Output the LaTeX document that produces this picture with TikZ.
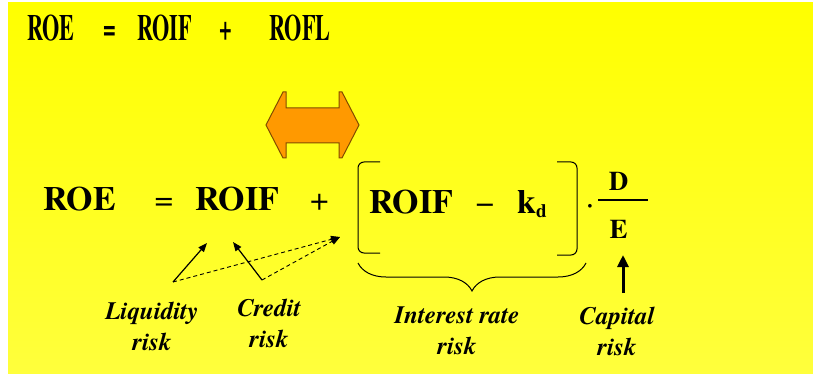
\documentclass[tikz,border=0pt]{standalone}
\usepackage{fontspec}
\setmainfont{texgyretermes}[Extension=.otf, UprightFont=*-regular, BoldFont=*-bold, ItalicFont=*-italic, BoldItalicFont=*-bolditalic]
\usetikzlibrary{arrows.meta,decorations.pathreplacing}
\definecolor{bgtop}{RGB}{255,255,0}
\definecolor{bgbot}{RGB}{255,255,60}
\definecolor{arrowfill}{RGB}{255,153,0}
\definecolor{arrowline}{RGB}{130,75,0}
\tikzset{
  topterm/.style={anchor=base, inner sep=0pt, font=\fontsize{37}{37}\selectfont\bfseries},
  term/.style={anchor=base, inner sep=0pt, font=\fontsize{34}{34}\selectfont\bfseries},
  oper/.style={anchor=base, inner sep=0pt, font=\fontsize{33}{33}\selectfont},
  fracterm/.style={anchor=base, inner sep=0pt, font=\fontsize{27}{27}\selectfont\bfseries},
  risklabel/.style={inner sep=0pt, align=center, font=\fontsize{25}{31}\selectfont\bfseries\itshape},
  solidarr/.style={line width=1.2pt, -{Triangle[length=9pt,width=7pt]}},
  dasharr/.style={line width=0.9pt, dash pattern=on 4pt off 3pt, -{Triangle[length=9pt,width=7pt]}},
  bigarr/.style={line width=3pt, -{Triangle[length=12pt,width=11pt]}}
}
\newcommand{\narrow}[1]{\scalebox{0.6}[1]{#1}}
\begin{document}
\begin{tikzpicture}[x=1pt,y=-1pt]
    \useasboundingbox (0,0) rectangle (813,374);
    \fill[white] (0,0) rectangle (813,374);
    \shade[top color=bgtop, bottom color=bgbot] (8,3) rectangle (813,374);
    % top line
    \node[topterm] (roeA) at (51,41) {\narrow{ROE}};
    \node[topterm] (eqA) at (110,41) {\narrow{=}};
    \node[topterm] (roifA) at (164.5,41) {\narrow{ROIF}};
    \node[topterm] (plusA) at (225.5,41) {\narrow{+}};
    \node[topterm] (roflA) at (300,41) {\narrow{ROFL}};
    % double arrow
    \draw[arrowline, fill=arrowfill, line width=1pt] (266,125) -- (283,92) -- (286,92) -- (286,108)
        -- (339,108) -- (339,92) -- (342,92) -- (359,125) -- (342,158) -- (339,158) -- (339,143)
        -- (286,143) -- (286,158) -- (283,158) -- cycle;
    % bottom line
    \node[term] (roeB) at (79.5,211) {ROE};
    \node[oper] (eqB) at (164,211) {=};
    \node[term] (roifB) at (237,211) {ROIF};
    \node[oper] (plusB) at (319.5,211) {+};
    \node[term] (roifC) at (411,213) {ROIF};
    \node[oper] (minusC) at (485,213) {−};
    \node[term] (kd) at (532,213) {k\raisebox{-4pt}{\fontsize{19}{19}\selectfont d}};
    \draw[line width=1pt, rounded corners=6pt] (380,162) -- (358,162) -- (358,253) -- (380,253);
    \draw[line width=1pt, rounded corners=6pt] (557,162) -- (577,162) -- (577,255) -- (557,255);
    \node[oper] (times) at (590,214) {·};
    \node[fracterm] (num) at (618.5,190) {D};
    \node[fracterm] (den) at (618.5,238) {E};
    \draw[line width=1.2pt] (598,200) -- (648,200);
    \draw[line width=1pt, decorate, decoration={brace, amplitude=28pt}] (586,263) -- (358,263);
    % risk labels
    \node[risklabel] (liq) at (152,326) {Liquidity\\risk};
    \node[risklabel] (cred) at (269,323) {Credit\\risk};
    \node[risklabel] (irr) at (457,331) {Interest rate\\risk};
    \node[risklabel] (capr) at (617,331) {Capital\\risk};
    \coordinate (liqtip) at (173,282);
    \coordinate (credtip) at (262,280);
    \coordinate (roifL) at (207,243);
    \coordinate (roifR) at (233,242);
    \coordinate (brk) at (340,237);
    \coordinate (capbase) at (623,293);
    \coordinate (captip) at (623,255);
    \draw[solidarr] (liqtip) -- (roifL);
    \draw[solidarr] (credtip) -- (roifR);
    \draw[dasharr] (liqtip) -- (brk);
    \draw[dasharr] (credtip) -- (brk);
    \draw[bigarr] (capbase) -- (captip);
\end{tikzpicture}
\end{document}
